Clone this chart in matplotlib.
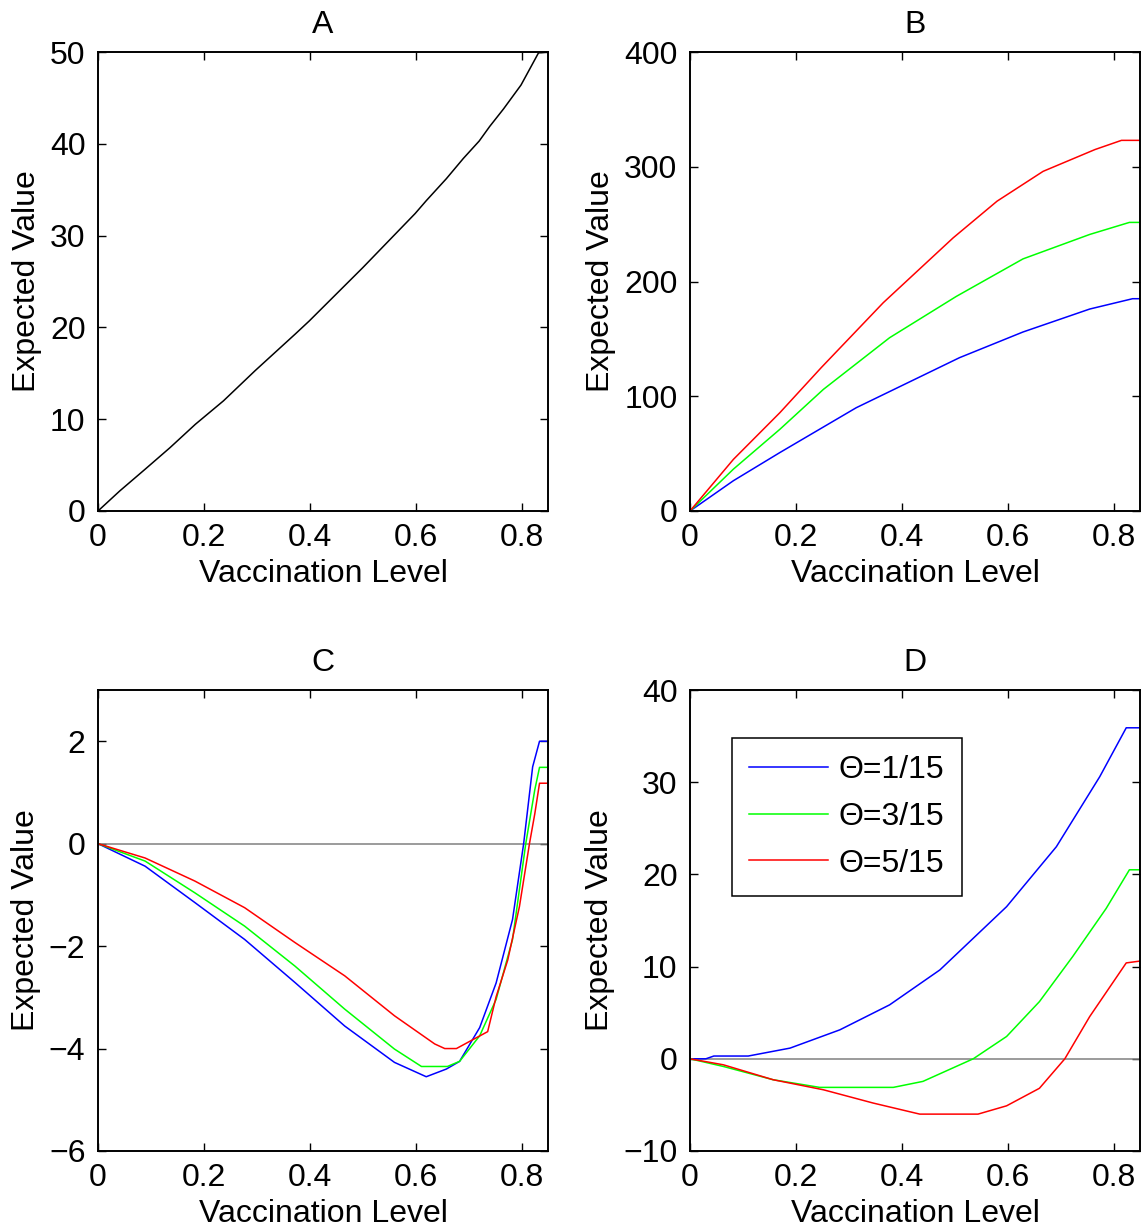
import matplotlib.pyplot as plt

plt.rcParams['font.family'] = ['Liberation Sans', 'DejaVu Sans']
plt.rcParams['font.size'] = 23

# ---------------- DATA ----------------
a_x = [0, 0.041, 0.089, 0.136, 0.184, 0.237, 0.297, 0.373, 0.399, 0.5, 0.599, 0.62,
       0.658, 0.69, 0.72, 0.74, 0.766, 0.799, 0.816, 0.832, 0.85]
a_y = [0, 2.18, 4.55, 6.9, 9.45, 12.0, 15.3, 19.3, 20.7, 26.5, 32.4, 33.8,
       36.2, 38.4, 40.3, 41.9, 43.8, 46.4, 48.2, 49.9, 50]

b_blue_x = [0, 0.082, 0.17, 0.314, 0.509, 0.629, 0.755, 0.836, 0.85]
b_blue_y = [0, 26.4, 51, 90, 133.6, 156, 176, 185, 185]
b_green_x = [0, 0.082, 0.17, 0.252, 0.377, 0.503, 0.629, 0.755, 0.83, 0.85]
b_green_y = [0, 36.5, 71.3, 106, 151, 187, 219.7, 241, 251.5, 251.5]
b_red_x = [0, 0.082, 0.17, 0.248, 0.365, 0.497, 0.58, 0.667, 0.765, 0.815, 0.85]
b_red_y = [0, 45, 85.8, 125, 181.5, 238, 270, 296, 315, 323, 323]

c_blue_x = [0, 0.089, 0.183, 0.277, 0.372, 0.466, 0.56, 0.62, 0.658, 0.683, 0.721,
            0.752, 0.783, 0.804, 0.821, 0.834, 0.85]
c_blue_y = [0, -0.44, -1.15, -1.87, -2.71, -3.56, -4.27, -4.55, -4.4, -4.25, -3.59,
            -2.72, -1.48, 0, 1.5, 2.0, 2.0]
c_green_x = [0, 0.089, 0.183, 0.277, 0.372, 0.466, 0.56, 0.611, 0.66, 0.683, 0.721,
             0.752, 0.783, 0.808, 0.825, 0.834, 0.85]
c_green_y = [0, -0.34, -0.96, -1.61, -2.39, -3.23, -4.01, -4.35, -4.35, -4.25, -3.75,
             -3.04, -1.87, 0, 1.05, 1.49, 1.49]
c_red_x = [0, 0.089, 0.183, 0.277, 0.372, 0.466, 0.56, 0.636, 0.655, 0.677, 0.736,
           0.752, 0.774, 0.796, 0.815, 0.825, 0.834, 0.85]
c_red_y = [0, -0.28, -0.73, -1.25, -1.93, -2.58, -3.36, -3.91, -4.0, -4.0, -3.67,
           -2.99, -2.27, -1.23, 0, 0.58, 1.18, 1.18]

d_blue_x = [0, 0.03, 0.045, 0.11, 0.189, 0.283, 0.377, 0.472, 0.598, 0.692, 0.774, 0.824, 0.85]
d_blue_y = [0, 0, 0.3, 0.3, 1.16, 3.14, 5.85, 9.64, 16.5, 23, 30.6, 35.9, 35.9]
d_green_x = [0, 0.063, 0.157, 0.245, 0.384, 0.44, 0.535, 0.598, 0.66, 0.723, 0.786, 0.83, 0.85]
d_green_y = [0, -0.83, -2.27, -3.1, -3.1, -2.45, 0, 2.42, 6.2, 11.1, 16.3, 20.5, 20.5]
d_red_x = [0, 0.063, 0.157, 0.252, 0.346, 0.434, 0.544, 0.598, 0.66, 0.708, 0.755, 0.824, 0.85]
d_red_y = [0, -0.65, -2.27, -3.36, -4.8, -6.0, -6.0, -5.1, -3.2, 0, 4.58, 10.4, 10.6]

legend_labels = ['\u0398=1/15', '\u0398=3/15', '\u0398=5/15']
x_ticks = [0, 0.2, 0.4, 0.6, 0.8]
x_ticklabels = ['0', '0.2', '0.4', '0.6', '0.8']

# ---------------- FIGURE ----------------
W, H = 1147, 1229
fig = plt.figure(figsize=(W / 100, H / 100), dpi=100)


def make_ax(left, top, right, bottom):
    return fig.add_axes([left / W, 1 - bottom / H, (right - left) / W, (bottom - top) / H])


def style(ax, title, ylim, yticks):
    ax.set_xlim(0, 0.85)
    ax.set_ylim(*ylim)
    ax.set_xticks(x_ticks)
    ax.set_xticklabels(x_ticklabels)
    ax.set_yticks(yticks)
    ax.tick_params(direction='in', length=6, width=1, top=True, right=True, pad=9)
    for s in ax.spines.values():
        s.set_linewidth(1.4)
    ax.set_title(title, fontsize=23, pad=14)
    ax.set_xlabel('Vaccination Level', labelpad=4)
    ax.set_ylabel('Expected Value', labelpad=6)


axA = make_ax(98, 52, 548, 511)
axB = make_ax(690, 52, 1140, 511)
axC = make_ax(98, 690, 548, 1151)
axD = make_ax(690, 690, 1140, 1151)

axA.plot(a_x, a_y, color='k', lw=1.1)
style(axA, 'A', (0, 50), [0, 10, 20, 30, 40, 50])

axB.plot(b_blue_x, b_blue_y, color='b', lw=1.1)
axB.plot(b_green_x, b_green_y, color='#00ff00', lw=1.1)
axB.plot(b_red_x, b_red_y, color='r', lw=1.1)
style(axB, 'B', (0, 400), [0, 100, 200, 300, 400])

axC.axhline(0, color='#808080', lw=1.1)
axC.plot(c_blue_x, c_blue_y, color='b', lw=1.1)
axC.plot(c_green_x, c_green_y, color='#00ff00', lw=1.1)
axC.plot(c_red_x, c_red_y, color='r', lw=1.1)
style(axC, 'C', (-6, 3), [-6, -4, -2, 0, 2])

axD.axhline(0, color='#808080', lw=1.1)
l1, = axD.plot(d_blue_x, d_blue_y, color='b', lw=1.1)
l2, = axD.plot(d_green_x, d_green_y, color='#00ff00', lw=1.1)
l3, = axD.plot(d_red_x, d_red_y, color='r', lw=1.1)
style(axD, 'D', (-10, 40), [-10, 0, 10, 20, 30, 40])
leg = axD.legend([l1, l2, l3], legend_labels, loc='upper left',
                 bbox_to_anchor=(0.093, 0.8965), borderaxespad=0, fancybox=False,
                 framealpha=1, edgecolor='k', handlelength=2.45, handletextpad=0.35,
                 labelspacing=0.52, borderpad=0.55, fontsize=23)
leg.get_frame().set_linewidth(1.1)

fig.savefig('out.png', dpi=100)
